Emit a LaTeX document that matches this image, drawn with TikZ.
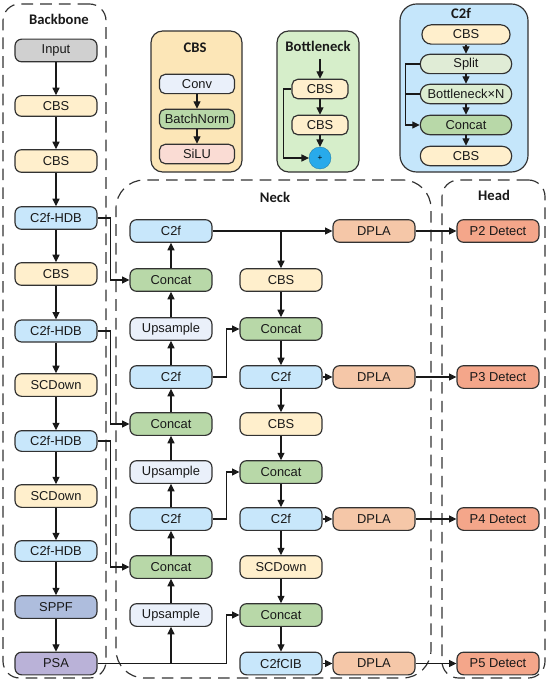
\documentclass[tikz,border=0pt]{standalone}
\usepackage{fontspec}
\setmainfont{Liberation Sans}
\newfontfamily\titlefont{Carlito}
\usepackage{xcolor}
\usetikzlibrary{arrows.meta,positioning,calc}
\definecolor{edgegray}{RGB}{50,50,50}
\definecolor{cbsyellow}{RGB}{255,239,204}
\definecolor{hdbblue}{RGB}{200,231,251}
\definecolor{catgreen}{RGB}{184,216,168}
\definecolor{upblue}{RGB}{234,240,250}
\definecolor{dplaorange}{RGB}{245,199,168}
\definecolor{detectred}{RGB}{244,166,138}
\definecolor{inputgray}{RGB}{208,208,208}
\definecolor{sppfblue}{RGB}{174,189,221}
\definecolor{psapurple}{RGB}{186,178,216}
\definecolor{panelyellow}{RGB}{252,230,183}
\definecolor{panelgreen}{RGB}{214,238,202}
\definecolor{panelblue}{RGB}{197,230,251}
\definecolor{silured}{RGB}{250,220,212}
\definecolor{splitgreen}{RGB}{224,236,214}
\definecolor{addblue}{RGB}{40,170,235}
\tikzset{
  block/.style={draw=edgegray,line width=1pt,rounded corners=0.2cm,inner sep=0pt,
    minimum width=2.46cm,minimum height=0.68cm,font=\fontsize{11}{13}\selectfont,text=black!90},
  small/.style={block,minimum width=2.25cm,minimum height=0.58cm,rounded corners=0.17cm},
  pill/.style={block,minimum width=2.74cm,minimum height=0.58cm,rounded corners=0.28cm},
  flow/.style={-{Triangle[length=2.2mm,width=2.1mm]},line width=0.9pt,draw=black!90},
  wire/.style={line width=0.9pt,draw=black!90},
  dashpanel/.style={draw=edgegray,line width=1pt,dash pattern=on 10pt off 6pt,
    rounded corners=0.5cm,inner sep=0pt},
  solidpanel/.style={draw=edgegray,line width=1pt,rounded corners=0.35cm,inner sep=0pt},
  paneltitle/.style={font=\titlefont\bfseries\fontsize{12.5}{14}\selectfont,text=black!90}
}
\begin{document}
\begin{tikzpicture}[x=0.03cm,y=-0.03cm]
\useasboundingbox (0,0) rectangle (550,682);

\node[dashpanel,minimum width=3.09cm,minimum height=20.22cm] (backbonepanel) at (54.5,341) {};
\node[dashpanel,rounded corners=0.85cm,minimum width=9.45cm,minimum height=14.94cm] (neckpanel) at (273.5,429) {};
\node[dashpanel,minimum width=3.09cm,minimum height=14.94cm] (headpanel) at (493.5,429) {};
\node[solidpanel,fill=panelyellow,minimum width=2.73cm,minimum height=4.23cm] (cbspanel) at (196.5,101.5) {};
\node[solidpanel,fill=panelgreen,minimum width=2.46cm,minimum height=4.23cm] (bottlepanel) at (318,101.5) {};
\node[solidpanel,rounded corners=0.5cm,fill=panelblue,minimum width=3.84cm,minimum height=5.04cm] (c2fpanel) at (464,88) {};

\node[paneltitle] (backbonetitle) at (59,19) {Backbone};
\node[paneltitle] (necktitle) at (275,197) {Neck};
\node[paneltitle] (headtitle) at (494,195) {Head};
\node[paneltitle] (cbstitle) at (195,48) {CBS};
\node[paneltitle] (bottletitle) at (318,46) {Bottleneck};
\node[paneltitle] (c2ftitle) at (461,13) {C2f};

\node[block,fill=inputgray] (input) at (56,50.5) {Input};
\node[block,fill=cbsyellow,minimum height=0.62cm] (cbsA) at (56,106) {CBS};
\node[block,fill=cbsyellow] (cbsB) at (56,161) {CBS};
\node[block,fill=hdbblue] (hdbA) at (56,218) {C2f-HDB};
\node[block,fill=cbsyellow] (cbsC) at (56,274) {CBS};
\node[block,fill=hdbblue,minimum height=0.66cm] (hdbB) at (56,331) {C2f-HDB};
\node[block,fill=cbsyellow] (downA) at (56,385) {SCDown};
\node[block,fill=hdbblue,minimum height=0.62cm] (hdbC) at (56,441) {C2f-HDB};
\node[block,fill=cbsyellow] (downB) at (56,496) {SCDown};
\node[block,fill=hdbblue,minimum height=0.62cm] (hdbD) at (56,551) {C2f-HDB};
\node[block,fill=sppfblue] (sppf) at (56,607) {SPPF};
\node[block,fill=psapurple] (psa) at (56,663.5) {PSA};

\node[block,fill=hdbblue] (upcA) at (171,231) {C2f};
\node[block,fill=catgreen] (catA) at (171,280) {Concat};
\node[block,fill=upblue] (upA) at (171,329) {Upsample};
\node[block,fill=hdbblue] (upcB) at (171,377) {C2f};
\node[block,fill=catgreen] (catB) at (171,424) {Concat};
\node[block,fill=upblue] (upB) at (171,472) {Upsample};
\node[block,fill=hdbblue] (upcC) at (171,519) {C2f};
\node[block,fill=catgreen] (catC) at (171,567) {Concat};
\node[block,fill=upblue] (upC) at (171,615) {Upsample};

\node[block,fill=cbsyellow] (panA) at (281,280) {CBS};
\node[block,fill=catgreen] (panB) at (281,329) {Concat};
\node[block,fill=hdbblue] (panC) at (281,377) {C2f};
\node[block,fill=cbsyellow] (panD) at (281,424) {CBS};
\node[block,fill=catgreen] (panE) at (281,472) {Concat};
\node[block,fill=hdbblue] (panF) at (281,519) {C2f};
\node[block,fill=cbsyellow] (panG) at (281,567) {SCDown};
\node[block,fill=catgreen] (panH) at (281,615) {Concat};
\node[block,fill=hdbblue] (panI) at (281,663.5) {C2fCIB};

\foreach \p/\y in {A/231,B/377,C/519,D/663.5}{
  \node[block,fill=dplaorange] (dpla\p) at (374,\y) {DPLA};
}
\foreach \p/\y/\lab in {A/231/P2,B/377/P3,C/519/P4,D/663.5/P5}{
  \node[block,fill=detectred] (det\p) at (498,\y) {\lab{} Detect};
}

\node[small,fill=upblue] (conv) at (197,84) {Conv};
\node[small,fill=catgreen] (norm) at (197,119) {BatchNorm};
\node[small,fill=silured] (silu) at (197,154) {SiLU};

\coordinate (bottletop) at (320,59);
\node[small,fill=cbsyellow,minimum width=1.68cm] (bcbsA) at (320,89) {CBS};
\node[small,fill=cbsyellow,minimum width=1.68cm] (bcbsB) at (320,125) {CBS};
\node[circle,fill=addblue,draw=addblue!70!black,line width=0.3pt,inner sep=0pt,minimum size=0.66cm,font=\scriptsize] (add) at (320,158) {+};

\node[pill,fill=cbsyellow,minimum width=2.64cm] (ccbsA) at (466,34.5) {CBS};
\node[pill,fill=splitgreen] (split) at (466,64) {Split};
\node[pill,fill=splitgreen!60!panelgreen] (neckN) at (466,94) {Bottleneck\texttimes N};
\node[pill,fill=catgreen] (ccat) at (466,125) {Concat};
\node[pill,fill=cbsyellow] (ccbsB) at (466,156) {CBS};

\foreach \a/\b in {input/cbsA,cbsA/cbsB,cbsB/hdbA,hdbA/cbsC,cbsC/hdbB,hdbB/downA,downA/hdbC,hdbC/downB,downB/hdbD,hdbD/sppf,sppf/psa,
  upC/catC,catC/upcC,upcC/upB,upB/catB,catB/upcB,upcB/upA,upA/catA,catA/upcA,
  panA/panB,panB/panC,panC/panD,panD/panE,panE/panF,panF/panG,panG/panH,panH/panI,
  conv/norm,norm/silu,bcbsA/bcbsB,bcbsB/add,ccbsA/split,split/neckN,neckN/ccat,ccat/ccbsB}{
  \draw[flow] (\a) -- (\b);
}
\draw[flow] (bottletop) -- (bcbsA);

\foreach \p in {A,B,C,D}{
  \draw[flow] (dpla\p) -- (det\p);
}
\draw[flow] (panC) -- (dplaB);
\draw[flow] (panF) -- (dplaC);
\draw[flow] (panI) -- (dplaD);
\draw[flow] (upcA) -- (dplaA);
\draw[flow] (panA.north |- upcA.east) -- (panA);

\draw[flow] (hdbA.east) -- ++(13,0) |- (catA.west);
\draw[flow] (hdbB.east) -- ++(13,0) |- (catB.west);
\draw[flow] (hdbC.east) -- ++(13,0) |- (catC.west);
\draw[flow] (upcB.east) -- ++(14,0) |- (panB.west);
\draw[flow] (upcC.east) -- ++(14,0) |- (panE.west);
\draw[flow] (psa.east) -- ++(129,0) |- (panH.west);
\draw[flow] (upC.south |- psa.east) -- (upC);

\draw[flow] (bcbsA.west) -- ++(-8,0) |- (add.west);
\draw[flow] (split.west) -- ++(-14,0) |- (ccat.west);
\draw[wire] (neckN.west) -- ++(-14,0);

\end{tikzpicture}
\end{document}
